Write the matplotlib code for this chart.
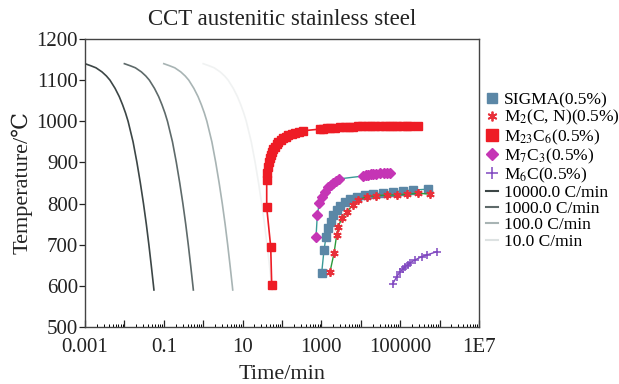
import matplotlib
matplotlib.use("Agg")
import matplotlib.pyplot as plt
from matplotlib.lines import Line2D
from matplotlib.ticker import LogLocator, FixedLocator, FixedFormatter, NullFormatter

plt.rcParams['font.family'] = ['Liberation Serif', 'DejaVu Serif', 'DejaVu Sans']
plt.rcParams['mathtext.fontset'] = 'stix'

# ---------------- data ----------------
cool_T = [1140, 1135, 1130, 1120, 1110, 1100, 1080, 1060, 1040, 1020, 1000, 950, 900, 850, 800, 750, 700, 650, 600, 590]
cool_t_10000 = [0.0010, 0.0014, 0.0019, 0.0027, 0.0035, 0.0043, 0.0058, 0.0074, 0.0090, 0.0107, 0.0124,
                0.0166, 0.0208, 0.0254, 0.0305, 0.0360, 0.0418, 0.0480, 0.0548, 0.0562]
cool_t_1000 = [0.010, 0.014, 0.019, 0.027, 0.035, 0.043, 0.058, 0.074, 0.090, 0.107, 0.124,
               0.166, 0.208, 0.254, 0.305, 0.360, 0.418, 0.480, 0.548, 0.562]
cool_t_100 = [0.10, 0.14, 0.19, 0.27, 0.35, 0.43, 0.58, 0.74, 0.90, 1.07, 1.24,
              1.66, 2.08, 2.54, 3.05, 3.60, 4.18, 4.80, 5.48, 5.62]
cool_t_10 = [1.0, 1.4, 1.9, 2.7, 3.5, 4.3, 5.8, 7.4, 9.0, 10.7, 12.4,
             16.6, 20.8, 25.4, 30.5, 36.0, 41.8, 48.0, 54.8, 56.2]

m23c6_t = [54.8, 51.7, 40.9, 40.9, 42.5, 44.9, 47, 49.6, 52, 54.8, 60, 66.4, 73, 80.6, 93, 108, 125, 144, 175, 214, 270, 347,
           921, 1100, 1350, 1652, 2200, 2965, 4000, 5000, 6450, 8500, 11000, 14100, 18000, 23000, 30700, 40000,
           52000, 66800, 85000, 110000, 146000, 178000, 288000]
m23c6_T = [602, 695, 791, 857, 875, 890, 901, 910, 919, 926, 933, 938, 944, 949, 954, 959, 963, 967, 970, 972, 975, 977,
           981, 982, 982.5, 983, 984, 985, 986, 986.5, 987, 987.5, 988, 988.5, 988.5, 989, 989, 989,
           989, 989, 989, 989, 989, 989, 989]

m7c3_t = [730, 787, 885, 1018, 1234, 1497, 1750, 2005, 2400, 2846, 11570, 13500, 15500, 18000, 20700, 25000, 30700, 38000, 45400, 55100]
m7c3_T = [718, 772, 801, 817, 829, 840, 845, 849, 855, 860, 867, 869, 870, 871, 872, 873, 874, 874, 874, 874]

sigma_t = [1018, 1164, 1309, 1497, 1722, 2005, 2443, 2965, 3972, 5321, 7870, 12800, 20700, 37200, 66800, 120000, 215000, 516000]
sigma_T = [632, 687, 719, 740, 756, 772, 784, 794, 805, 811, 817, 821, 823, 826, 829, 831, 833, 835]

m2cn_t = [1652, 2089, 2443, 2685, 3273, 4385, 6450, 8650, 14100, 25000, 45400, 81500, 146000, 288000, 570000]
m2cn_T = [634, 679, 724, 744, 764, 780, 797, 809, 817, 819, 821, 821, 823, 825, 823]

m6c_t = [64500, 81500, 98900, 115000, 132000, 155000, 177000, 238000, 351000, 471000, 843000]
m6c_T = [605, 622, 634, 640, 646, 651, 656, 663, 671, 675, 683]

xtick_vals = [1e-3, 1e-1, 1e1, 1e3, 1e5, 1e7]
xtick_labels = ["0.001", "0.1", "10", "1000", "100000", "1E7"]
ytick_vals = [500, 600, 700, 800, 900, 1000, 1100, 1200]

# ---------------- figure ----------------
fig = plt.figure(figsize=(6.19, 3.84), dpi=100)
ax = fig.add_axes([85/619, 1-327/384, (479-85)/619, (327-39)/384])

c_sigma = '#5b87a6'
c_m2 = '#e8303a'
c_m23 = '#ee1c25'
c_m7 = '#c535b5'
c_m6 = '#8048c0'
c_cool = ['#3c4646', '#5e6a6a', '#a8b4b4', '#f0f2f2']

# cooling curves
for t, c in zip([cool_t_10000, cool_t_1000, cool_t_100, cool_t_10], c_cool):
    ax.plot(t, cool_T, color=c, lw=1.2, zorder=2)

ms = 6
ax.plot(m23c6_t, m23c6_T, color=c_m23, lw=1.2, marker='s', ms=ms, mec=c_m23, mfc=c_m23, zorder=3)
ax.plot(m7c3_t, m7c3_T, color='#3a9a98', lw=1.0, marker='D', ms=5.2, mec=c_m7, mfc=c_m7, zorder=3)
ax.plot(sigma_t, sigma_T, color='#3a9a98', lw=1.0, marker='s', ms=ms, mec=c_sigma, mfc=c_sigma, zorder=3)
ax.plot(m2cn_t, m2cn_T, color='#2a9a3a', lw=1.0, marker=(6, 2, 0), ms=6, mec=c_m2, mew=1.3, zorder=4)
ax.plot(m6c_t, m6c_T, color=c_m6, lw=1.0, marker='+', ms=6, mec=c_m6, mew=1.1, zorder=3)

ax.set_xscale('log')
ax.set_xlim(1e-3, 1e7)
ax.set_ylim(500, 1200)

ax.xaxis.set_major_locator(FixedLocator([10.0**k for k in range(-3, 8)]))
ax.xaxis.set_major_formatter(FixedFormatter(
    [xtick_labels[xtick_vals.index(10.0**k)] if 10.0**k in xtick_vals else "" for k in range(-3, 8)]))
ax.xaxis.set_minor_locator(LogLocator(base=10, subs=range(2, 10), numticks=100))
ax.xaxis.set_minor_formatter(NullFormatter())
ax.set_yticks(ytick_vals)

ax.tick_params(axis='x', which='major', direction='in', length=5, width=0.9, pad=8, labelsize=15, colors='#222222')
ax.tick_params(axis='x', which='minor', direction='in', length=2.5, width=0.7)
ax.tick_params(axis='y', which='major', direction='out', length=4, width=0.9, pad=1, labelsize=15, colors='#222222')
ax.tick_params(axis='both', top=False, right=False)
for s in ax.spines.values():
    s.set_color('#444444')
    s.set_linewidth(1.0)

ax.set_xlabel('Time/min', fontsize=16, labelpad=6, color='#222222')
ax.set_ylabel('Temperature/℃', fontsize=16, labelpad=3, color='#222222')
ax.set_title('CCT austenitic stainless steel', fontsize=16.5, pad=10, color='#222222')

handles = [
    Line2D([], [], ls='none', marker='s', ms=7, mfc=c_sigma, mec=c_sigma),
    Line2D([], [], ls='none', marker=(6, 2, 0), ms=7, mec=c_m2, mew=1.3),
    Line2D([], [], ls='none', marker='s', ms=8, mfc=c_m23, mec=c_m23),
    Line2D([], [], ls='none', marker='D', ms=6, mfc=c_m7, mec=c_m7),
    Line2D([], [], ls='none', marker='+', ms=8, mec=c_m6, mew=1.1),
    Line2D([], [], color=c_cool[0], lw=1.5),
    Line2D([], [], color=c_cool[1], lw=1.5),
    Line2D([], [], color=c_cool[2], lw=1.5),
    Line2D([], [], color='#dde2e2', lw=1.5),
]
labels = ['SIGMA(0.5%)', 'M$_{2}$(C, N)(0.5%)', 'M$_{23}$C$_{6}$(0.5%)', 'M$_{7}$C$_{3}$(0.5%)',
          'M$_{6}$C(0.5%)', '10000.0 C/min', '1000.0 C/min', '100.0 C/min', '10.0 C/min']
fig.legend(handles, labels, loc='upper left', bbox_to_anchor=(486/619, 1-92/384), frameon=False,
           fontsize=12.5, handlelength=0.7, handletextpad=0.35, labelspacing=0.0, borderpad=0,
           borderaxespad=0)

fig.savefig('out.png', dpi=100)
